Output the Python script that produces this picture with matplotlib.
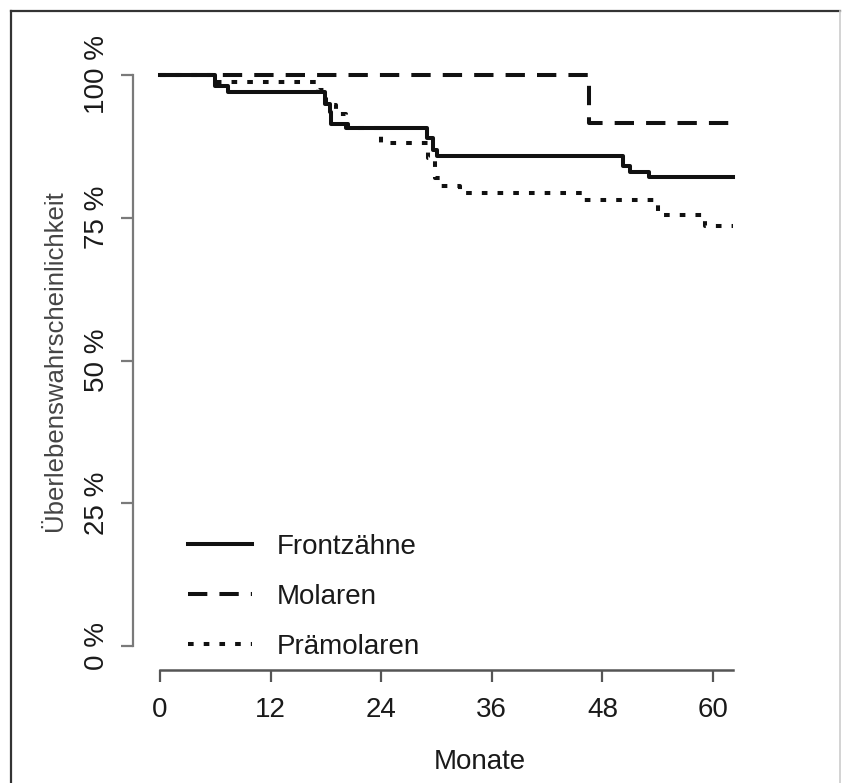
"""
Kaplan-Meier Überlebenskurven nach Zahngruppe (Frontzähne, Molaren, Prämolaren).
Schreibt out.png.
"""

import matplotlib
matplotlib.use("Agg")
import matplotlib.pyplot as plt
from matplotlib.lines import Line2D

plt.rcParams["font.family"] = ["Liberation Sans", "DejaVu Sans"]

# Stufen der KM-Kurven (Monate, Überlebenswahrscheinlichkeit in %)
front_t = [0, 6.0, 7.4, 17.9, 18.4, 18.6, 20.4, 29.0, 29.6, 30.0, 50.2, 51.0, 53.1, 62.2]
front_s = [100, 98.0, 97.1, 95.0, 93.6, 91.4, 90.7, 88.9, 86.9, 85.8, 84.0, 83.1, 82.1, 82.1]

molar_t = [0, 46.6, 62.2]
molar_s = [100, 91.67, 91.67]

praem_t = [0, 6.0, 17.1, 18.0, 19.1, 20.2, 24.0, 29.1, 29.8, 30.5, 32.5, 46.0, 54.0, 59.1, 62.2]
praem_s = [100, 98.7, 97.4, 94.8, 93.1, 90.7, 88.1, 85.5, 82.0, 80.6, 79.4, 78.1, 75.5, 73.6, 73.6]

labels = ["Frontzähne", "Molaren", "Prämolaren"]
x_ticks = [0, 12, 24, 36, 48, 60]
y_ticks = [0, 25, 50, 75, 100]
y_ticklabels = ["0 %", "25 %", "50 %", "75 %", "100 %"]

W, H = 843, 783
FS = 20
LW = 2.9
DASH = (4.8, 3.0)
DOT = (1.4, 2.5)

fig = plt.figure(figsize=(W / 100, H / 100), dpi=100)
ax = fig.add_axes([133 / W, 0.14432, 635.3 / W, 0.79636])
ax.set_xlim(-2.93, 66)
ax.set_ylim(-4.2, 105)

ax.step(front_t, front_s, where="post", color="#111111", lw=LW)
ax.step(molar_t, molar_s, where="post", color="#111111", lw=LW,
        linestyle=(0, DASH), dash_capstyle="butt")
ax.step(praem_t, praem_s, where="post", color="#111111", lw=LW,
        linestyle=(0, DOT), dash_capstyle="butt")

# R-artige Achsen: nur links/unten, auf Tick-Bereich begrenzt
for side in ["top", "right"]:
    ax.spines[side].set_visible(False)
ax.spines["left"].set_bounds(0, 100)
ax.spines["bottom"].set_bounds(0, 62.2)
ax.spines["left"].set_color("#7a7a7a")
ax.spines["bottom"].set_color("#555555")
ax.spines["left"].set_linewidth(1.6)
ax.spines["bottom"].set_linewidth(1.8)

ax.set_xticks(x_ticks)
ax.set_yticks(y_ticks)
ax.set_yticklabels(y_ticklabels, rotation=90, va="center")
ax.tick_params(axis="x", length=8.6, width=1.6, color="#555555",
               labelsize=FS, labelcolor="#1a1a1a", pad=11)
ax.tick_params(axis="y", length=8.6, width=1.6, color="#7a7a7a",
               labelsize=FS, labelcolor="#1a1a1a", pad=8)

fig.text(480 / W, 1 - 762 / H, "Monate", fontsize=FS, color="#1a1a1a",
         ha="center", va="center")
fig.text(55 / W, 1 - 361 / H, "Überlebenswahrscheinlichkeit", fontsize=18.5,
         color="#444444", rotation=90, ha="center", va="center")

handles = [
    Line2D([], [], color="#111111", lw=LW),
    Line2D([], [], color="#111111", lw=LW, linestyle=(0, DASH), dash_capstyle="butt"),
    Line2D([], [], color="#111111", lw=LW, linestyle=(0, DOT), dash_capstyle="butt"),
]
leg = ax.legend(handles, labels, loc="center left",
                bbox_to_anchor=(188 / W, 1 - 597 / H), bbox_transform=fig.transFigure,
                frameon=False, fontsize=FS, handlelength=2.3, handletextpad=0.9,
                labelspacing=0.87, borderpad=0, borderaxespad=0)
for t in leg.get_texts():
    t.set_color("#1a1a1a")

# Rahmen um die Abbildung: links/oben dunkel, rechts hell
fig.add_artist(Line2D([11 / W, 11 / W], [0, 1 - 11 / H], transform=fig.transFigure,
                      color="#333333", lw=1.6))
fig.add_artist(Line2D([11 / W, 840 / W], [1 - 11 / H, 1 - 11 / H], transform=fig.transFigure,
                      color="#333333", lw=1.6))
fig.add_artist(Line2D([840 / W, 840 / W], [0, 1 - 11 / H], transform=fig.transFigure,
                      color="#cccccc", lw=1.2))

fig.savefig("out.png", dpi=100)
